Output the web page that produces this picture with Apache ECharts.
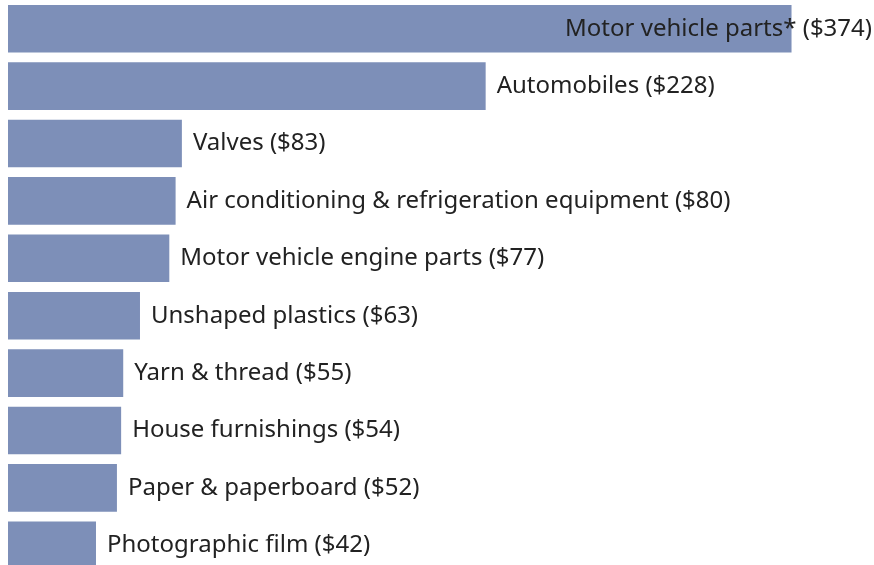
<!DOCTYPE html>
<html>
<head>
<meta charset="utf-8">
<script src="https://cdn.jsdelivr.net/npm/echarts@6/dist/echarts.min.js"></script>
<style>html,body{margin:0;padding:0;background:#fff;overflow:hidden;width:874px;height:565px;}#c{width:874px;height:575px;}</style>
</head>
<body>
<div id="c"></div>
<script>
var categories = ["Motor vehicle parts*", "Automobiles", "Valves", "Air conditioning & refrigeration equipment", "Motor vehicle engine parts", "Unshaped plastics", "Yarn & thread", "House furnishings", "Paper & paperboard", "Photographic film"];
var values = [374, 228, 83, 80, 77, 63, 55, 54, 52, 42];

var chart = echarts.init(document.getElementById('c'));
var W = 874;
chart.setOption({
  animation: false,
  grid: { left: 8, top: 0, width: 838, height: 574 },
  xAxis: { type: 'value', min: 0, max: 400, show: false },
  yAxis: { type: 'category', data: categories, inverse: true, show: false },
  series: [{
    type: 'bar',
    data: values,
    barCategoryGap: '17%',
    itemStyle: { color: '#7d8fb8' },
    label: {
      show: true,
      position: 'right',
      distance: 11,
      fontFamily: 'Noto Sans',
      fontSize: 24,
      color: '#222222',
      formatter: function (p) { return categories[p.dataIndex] + ' ($' + p.value + ')'; }
    }
  }],
  labelLayout: function (params) {
    var r = params.labelRect;
    if (r.x + r.width > W - 2) {
      return { x: W - 2, y: r.y + r.height / 2, align: 'right', verticalAlign: 'middle' };
    }
    return {};
  }
});
</script>
</body>
</html>
